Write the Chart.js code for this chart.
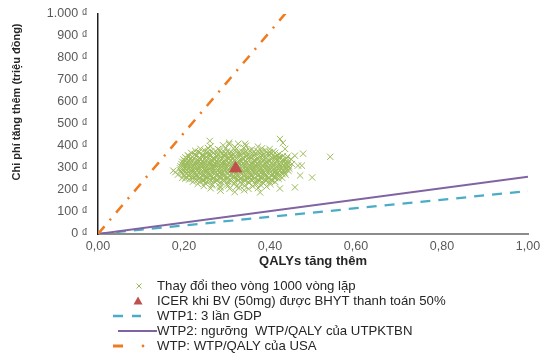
<!DOCTYPE html>
<html><head><meta charset="utf-8">
<script src="https://cdn.jsdelivr.net/npm/chart.js@4.4.0/dist/chart.umd.min.js"></script>
<style>html,body{margin:0;padding:0;background:#fff}#wrap{width:540px;height:356px;position:relative}</style>
</head><body><div id="wrap"><canvas id="c" width="540" height="356"></canvas></div>
<script>
// ---- data ----
const xTickValues = [0, 0.2, 0.4, 0.6, 0.8, 1.0];
const yTickValues = [0, 100, 200, 300, 400, 500, 600, 700, 800, 900, 1000];
const seriesLabels = [
  'Thay đổi theo vòng 1000 vòng lặp',
  'ICER khi BV (50mg) được BHYT thanh toán 50%',
  'WTP1: 3 lần GDP',
  'WTP2: ngưỡng  WTP/QALY của UTPKTBN',
  'WTP: WTP/QALY của USA'
];
const xTitle = 'QALYs tăng thêm';
const yTitle = 'Chi phí tăng thêm (triệu đồng)';
// simulated (QALY, cost) pairs, estimated from the cloud
const simPoints = [
 [0.262,398],[0.291,403],[0.318,396],[0.344,401],[0.372,397],[0.305,408],
 [0.238,387],[0.256,391],[0.279,386],[0.297,390],[0.322,388],[0.339,392],[0.358,385],[0.381,389],[0.399,386],
 [0.226,378],[0.247,381],[0.263,376],[0.284,380],[0.301,377],[0.319,382],[0.335,375],[0.352,380],[0.371,377],[0.389,381],[0.408,376],
 [0.235,373],[0.256,374],[0.276,372],[0.293,374],[0.310,373],[0.328,371],[0.344,374],[0.362,372],[0.381,374],[0.400,372],
 [0.217,368],[0.234,371],[0.251,366],[0.269,370],[0.288,365],[0.306,369],[0.324,366],[0.341,372],[0.359,367],[0.376,370],[0.394,365],[0.412,369],
 [0.226,363],[0.243,362],[0.260,364],[0.278,362],[0.297,364],[0.315,363],[0.333,361],[0.350,364],[0.368,363],[0.385,362],[0.403,364],[0.421,363],
 [0.209,358],[0.225,361],[0.243,356],[0.259,360],[0.276,355],[0.293,359],[0.311,357],[0.329,362],[0.346,355],[0.363,360],[0.381,356],[0.398,361],[0.417,357],
 [0.211,353],[0.228,354],[0.245,352],[0.261,354],[0.277,352],[0.294,354],[0.310,353],[0.327,352],[0.344,354],[0.361,353],[0.378,352],[0.395,354],[0.413,353],[0.430,354],
 [0.203,348],[0.219,351],[0.236,346],[0.252,350],[0.268,345],[0.285,349],[0.302,347],[0.318,352],[0.336,345],[0.353,350],[0.370,346],[0.387,351],[0.404,347],[0.423,349],[0.441,352],
 [0.207,343],[0.223,344],[0.239,342],[0.255,344],[0.271,343],[0.288,342],[0.305,344],[0.322,343],[0.339,342],[0.356,344],[0.372,343],[0.389,342],[0.406,344],[0.422,343],[0.439,344],
 [0.199,338],[0.214,341],[0.231,336],[0.247,340],[0.263,335],[0.279,339],[0.296,337],[0.313,342],[0.330,336],[0.347,340],[0.364,335],[0.381,339],[0.397,336],[0.414,341],[0.430,337],[0.449,340],
 [0.203,333],[0.219,334],[0.235,332],[0.251,334],[0.267,333],[0.283,332],[0.300,334],[0.316,333],[0.333,332],[0.350,334],[0.366,333],[0.383,332],[0.400,334],[0.416,333],[0.433,332],
 [0.196,328],[0.211,331],[0.227,326],[0.243,330],[0.259,325],[0.275,329],[0.291,327],[0.308,332],[0.325,326],[0.342,330],[0.358,325],[0.374,329],[0.391,327],[0.408,331],[0.425,326],[0.438,330],
 [0.201,323],[0.216,324],[0.232,322],[0.248,324],[0.264,323],[0.280,322],[0.296,324],[0.313,323],[0.329,322],[0.345,324],[0.362,323],[0.378,322],[0.395,324],[0.411,323],[0.427,322],[0.443,324],
 [0.194,318],[0.208,321],[0.224,316],[0.240,320],[0.256,315],[0.272,319],[0.288,317],[0.304,322],[0.321,316],[0.337,320],[0.353,315],[0.370,319],[0.386,317],[0.403,321],[0.419,316],[0.435,320],[0.451,318],
 [0.200,313],[0.215,314],[0.231,312],[0.247,314],[0.263,313],[0.279,312],[0.295,314],[0.311,313],[0.327,312],[0.343,314],[0.359,313],[0.375,312],[0.392,314],[0.408,313],[0.424,312],[0.440,314],
 [0.192,308],[0.207,311],[0.222,306],[0.238,310],[0.254,305],[0.270,309],[0.286,307],[0.302,312],[0.318,306],[0.334,310],[0.350,305],[0.366,309],[0.383,307],[0.400,311],[0.416,306],[0.432,310],[0.444,307],
 [0.199,303],[0.214,304],[0.230,302],[0.246,304],[0.262,303],[0.278,302],[0.294,304],[0.310,303],[0.326,302],[0.342,304],[0.358,303],[0.374,302],[0.390,304],[0.406,303],[0.422,302],[0.438,304],
 [0.191,298],[0.206,301],[0.221,296],[0.237,300],[0.253,295],[0.269,299],[0.285,297],[0.301,302],[0.317,296],[0.333,300],[0.349,295],[0.365,299],[0.381,297],[0.397,301],[0.413,296],[0.429,300],[0.445,297],
 [0.199,293],[0.215,294],[0.231,292],[0.247,294],[0.263,293],[0.279,292],[0.295,294],[0.311,293],[0.327,292],[0.343,294],[0.359,293],[0.375,292],[0.391,294],[0.407,293],[0.423,292],[0.437,294],
 [0.192,288],[0.207,291],[0.223,286],[0.239,290],[0.255,285],[0.271,289],[0.287,287],[0.303,292],[0.319,286],[0.335,290],[0.351,285],[0.367,289],[0.383,287],[0.399,291],[0.415,286],[0.431,290],[0.443,287],
 [0.202,283],[0.218,284],[0.234,282],[0.250,284],[0.266,283],[0.282,282],[0.298,284],[0.314,283],[0.330,282],[0.346,284],[0.362,283],[0.378,282],[0.394,284],[0.410,283],[0.426,282],
 [0.195,278],[0.210,281],[0.226,276],[0.242,280],[0.258,275],[0.274,279],[0.290,277],[0.306,282],[0.322,276],[0.338,280],[0.354,275],[0.370,279],[0.386,277],[0.402,281],[0.418,276],[0.434,280],
 [0.206,273],[0.222,274],[0.238,272],[0.254,274],[0.270,273],[0.286,272],[0.302,274],[0.318,273],[0.334,272],[0.350,274],[0.366,273],[0.382,272],[0.398,274],[0.414,273],[0.429,272],
 [0.199,268],[0.214,271],[0.230,266],[0.246,270],[0.262,265],[0.278,269],[0.294,267],[0.310,272],[0.326,266],[0.342,270],[0.358,265],[0.374,269],[0.390,267],[0.406,271],[0.422,266],[0.436,270],
 [0.212,263],[0.228,264],[0.244,262],[0.260,264],[0.276,263],[0.292,262],[0.308,264],[0.324,263],[0.340,262],[0.356,264],[0.372,263],[0.388,262],[0.404,264],[0.420,263],
 [0.205,258],[0.220,261],[0.236,256],[0.252,260],[0.268,255],[0.284,259],[0.300,257],[0.316,262],[0.332,256],[0.348,260],[0.364,255],[0.380,259],[0.396,257],[0.412,261],[0.428,256],
 [0.220,253],[0.236,254],[0.252,252],[0.268,254],[0.284,253],[0.300,252],[0.316,254],[0.332,253],[0.348,252],[0.364,254],[0.380,253],[0.396,252],[0.412,254],
 [0.212,248],[0.228,251],[0.244,246],[0.260,250],[0.276,245],[0.292,249],[0.308,247],[0.324,252],[0.340,246],[0.356,250],[0.372,245],[0.388,249],[0.404,247],[0.420,251],
 [0.230,243],[0.246,244],[0.262,242],[0.278,244],[0.294,243],[0.310,242],[0.326,244],[0.342,243],[0.358,242],[0.374,244],[0.390,243],[0.405,242],
 [0.221,238],[0.238,241],[0.254,236],[0.270,240],[0.286,235],[0.302,239],[0.318,237],[0.334,242],[0.350,236],[0.366,240],[0.382,235],[0.398,239],[0.412,237],
 [0.232,228],[0.249,231],[0.266,226],[0.283,230],[0.300,225],[0.317,229],[0.334,227],[0.351,232],[0.368,226],[0.385,230],[0.401,227],
 [0.246,218],[0.265,221],[0.284,216],[0.303,220],[0.322,215],[0.341,219],[0.360,217],[0.379,221],[0.392,216],
 [0.262,208],[0.284,211],[0.306,206],[0.328,210],[0.350,205],[0.372,209],
 [0.285,197],[0.318,191],[0.340,199],[0.377,189],
 [0.175,288],[0.180,281],[0.186,270],[0.196,255],[0.203,252],
 [0.260,423],[0.305,415],[0.326,410],[0.342,410],[0.423,432],[0.430,414],[0.435,387],
 [0.458,356],[0.477,365],[0.465,311],[0.474,311],[0.470,266],[0.498,257],[0.458,212],[0.423,207],[0.540,351]
];
const icerPoint = [0.32, 298];
const wtp1Line = [[0, 0], [1, 195]];
const wtp2Line = [[0, 0], [1, 260]];
const wtpUsaLine = [[0, 0], [1, 2300]];

const toXY = arr => arr.map(p => ({x: p[0], y: p[1]}));
const fmtY = v => (v >= 1000 ? Math.floor(v/1000) + '.' + String(v % 1000).padStart(3, '0') : String(v)) + ' \u20AB';
const fmtX = v => v.toFixed(2).replace('.', ',');

const COL = {green:'#9BBB59', red:'#C0504D', cyan:'#4BACC6', purple:'#8064A2', orange:'#F07A1E'};
const FONT = '"Liberation Sans", Arial, sans-serif';

const legendPlugin = {
  id: 'customLegendTitles',
  afterDraw(chart) {
    const ctx = chart.ctx;
    ctx.save();
    // y axis title
    ctx.translate(17, 102);
    ctx.rotate(-Math.PI / 2);
    ctx.font = 'bold 11px ' + FONT;
    ctx.fillStyle = '#262626';
    ctx.textAlign = 'center';
    ctx.textBaseline = 'middle';
    ctx.fillText(yTitle, 0, 0);
    ctx.restore();

    ctx.save();
    const rows = [286, 301, 316, 331, 346];
    const textX = 157;
    ctx.font = '13.2px ' + FONT;
    ctx.textBaseline = 'middle';
    ctx.textAlign = 'left';
    chart.data.datasets.forEach((ds, i) => {
      const y = rows[i];
      ctx.save();
      if (i === 0) {
        ctx.strokeStyle = ds.borderColor; ctx.lineWidth = 1;
        const d = 2.5, cx = 139;
        ctx.beginPath();
        ctx.moveTo(cx - d, y - d); ctx.lineTo(cx + d, y + d);
        ctx.moveTo(cx + d, y - d); ctx.lineTo(cx - d, y + d);
        ctx.stroke();
      } else if (i === 1) {
        ctx.fillStyle = ds.backgroundColor;
        const cx = 138;
        ctx.beginPath();
        ctx.moveTo(cx, y - 4.5); ctx.lineTo(cx + 4.5, y + 3.5); ctx.lineTo(cx - 4.5, y + 3.5);
        ctx.closePath(); ctx.fill();
      } else if (i === 2) {
        ctx.strokeStyle = ds.borderColor; ctx.lineWidth = 2.5;
        ctx.beginPath(); ctx.moveTo(113, y); ctx.lineTo(123, y); ctx.moveTo(132, y); ctx.lineTo(141, y); ctx.stroke();
      } else if (i === 3) {
        ctx.strokeStyle = ds.borderColor; ctx.lineWidth = 2;
        ctx.beginPath(); ctx.moveTo(118, y); ctx.lineTo(157, y); ctx.stroke();
      } else {
        ctx.strokeStyle = ds.borderColor; ctx.lineWidth = 3;
        ctx.beginPath(); ctx.moveTo(113, y); ctx.lineTo(123, y); ctx.stroke();
        ctx.fillStyle = ds.borderColor;
        ctx.beginPath(); ctx.arc(143, y, 1.4, 0, Math.PI * 2); ctx.fill();
      }
      ctx.restore();
      ctx.fillStyle = '#262626';
      ctx.fillText(ds.label, textX, y);
    });
    ctx.restore();
  }
};

new Chart(document.getElementById('c'), {
  type: 'scatter',
  data: {
    datasets: [
      {label: seriesLabels[0], data: toXY(simPoints), pointStyle: 'crossRot', pointRadius: 4.5,
       borderColor: COL.green, backgroundColor: COL.green, pointBorderWidth: 1, order: 2},
      {label: seriesLabels[1], data: toXY([icerPoint]), pointStyle: 'triangle', pointRadius: 7,
       borderColor: COL.red, backgroundColor: COL.red, order: 1},
      {label: seriesLabels[2], data: toXY(wtp1Line), showLine: true, pointRadius: 0, borderColor: COL.cyan,
       borderWidth: 2.25, borderDash: [10, 8], order: 5},
      {label: seriesLabels[3], data: toXY(wtp2Line), showLine: true, pointRadius: 0, borderColor: COL.purple,
       borderWidth: 2, order: 4},
      {label: seriesLabels[4], data: toXY(wtpUsaLine), showLine: true, pointRadius: 0, borderColor: COL.orange,
       borderWidth: 2.5, borderDash: [10, 8, 2, 8], order: 3}
    ]
  },
  options: {
    responsive: false, animation: false, devicePixelRatio: 1,
    layout: {padding: {top: 0, right: 0, bottom: 86, left: 0}},
    plugins: {legend: {display: false}, tooltip: {enabled: false}},
    scales: {
      x: {
        type: 'linear', min: 0, max: 1, position: 'bottom',
        afterBuildTicks: s => { s.ticks = xTickValues.map(v => ({value: v})); },
        afterFit: s => { s.height = 36; s.paddingRight = 12; s.paddingLeft = 0; },
        grid: {display: false, drawTicks: false},
        border: {display: true, color: '#8C8C8C', width: 2},
        ticks: {padding: 5, color: '#595959', font: {family: FONT, size: 12.5}, callback: v => fmtX(v), maxRotation: 0},
        title: {display: true, text: xTitle, color: '#262626', font: {family: FONT, size: 13, weight: 'bold'}, padding: {top: 0, bottom: 1}}
      },
      y: {
        type: 'linear', min: 0, max: 1000,
        afterBuildTicks: s => { s.ticks = yTickValues.map(v => ({value: v})); },
        afterFit: s => { s.width = 98; s.paddingTop = 14; s.paddingBottom = 0; },
        grid: {display: false, drawTicks: false},
        border: {display: true, color: '#1F1F1F', width: 1.5},
        ticks: {padding: 10, color: '#595959', font: {family: FONT, size: 12.5}, callback: v => fmtY(v)},
        title: {display: false}
      }
    }
  },
  plugins: [legendPlugin]
});
</script></body></html>
